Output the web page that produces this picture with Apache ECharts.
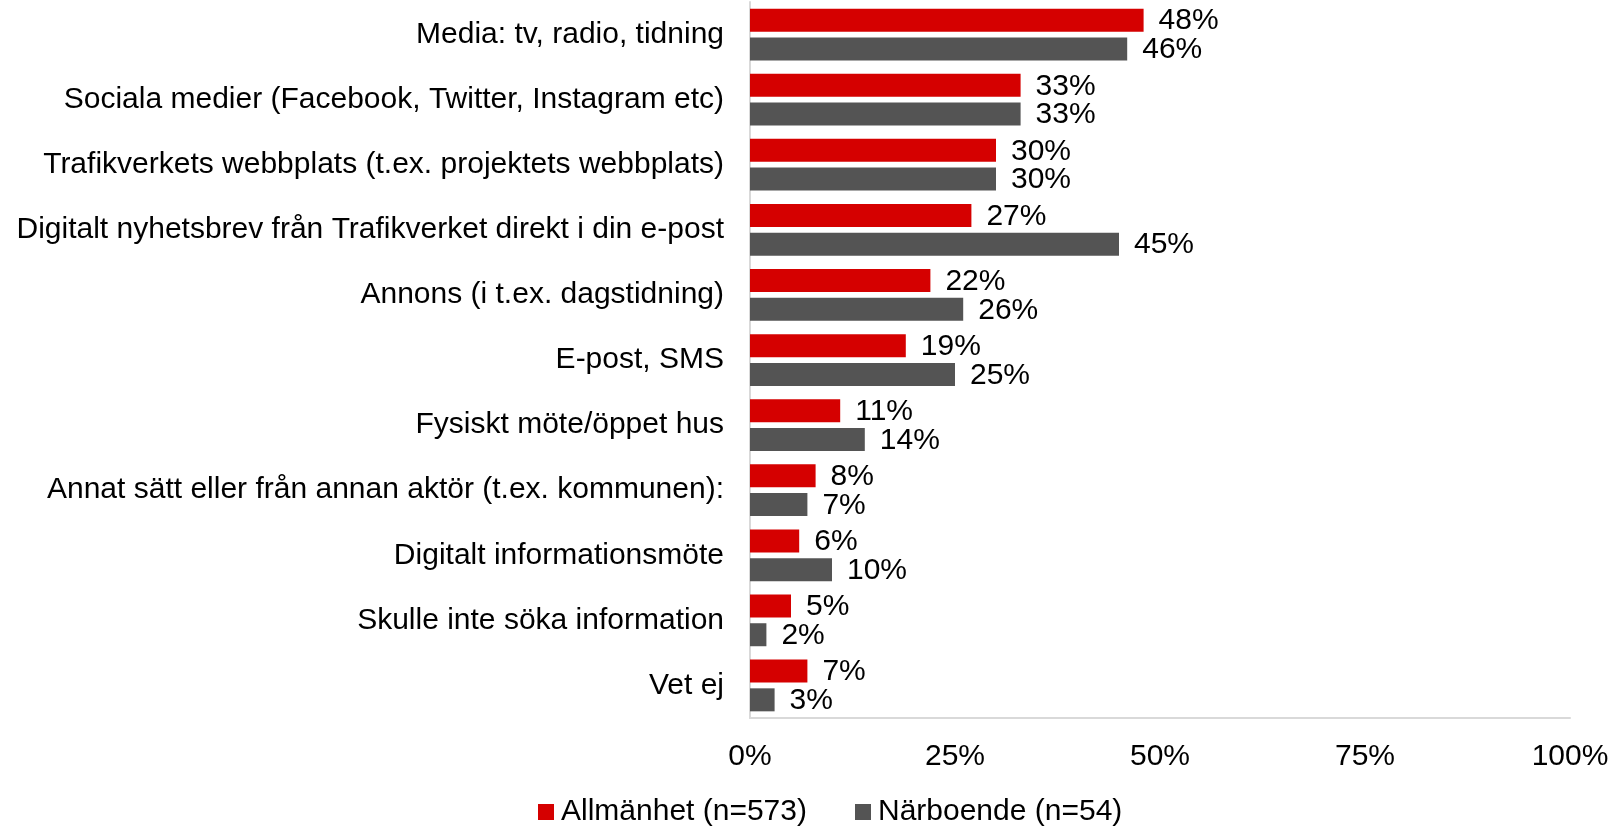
<!DOCTYPE html>
<html>
<head>
<meta charset="utf-8">
<script src="https://cdn.jsdelivr.net/npm/echarts@6/dist/echarts.min.js"></script>
<style>
html,body{margin:0;padding:0;background:#fff;}
#chart{width:1612px;height:826px;}
</style>
</head>
<body>
<div id="chart"></div>
<script>
const categories = [
  "Media: tv, radio, tidning",
  "Sociala medier (Facebook, Twitter, Instagram etc)",
  "Trafikverkets webbplats (t.ex. projektets webbplats)",
  "Digitalt nyhetsbrev från Trafikverket direkt i din e-post",
  "Annons (i t.ex. dagstidning)",
  "E-post, SMS",
  "Fysiskt möte/öppet hus",
  "Annat sätt eller från annan aktör (t.ex. kommunen):",
  "Digitalt informationsmöte",
  "Skulle inte söka information",
  "Vet ej"
];
const seriesNames = ["Allmänhet (n=573)", "Närboende (n=54)"];
const allmanhet = [48, 33, 30, 27, 22, 19, 11, 8, 6, 5, 7];
const narboende = [46, 33, 30, 45, 26, 25, 14, 7, 10, 2, 3];
const xTicks = [0, 25, 50, 75, 100];

const FONT = '"Liberation Sans", Arial, sans-serif';
const FS = 30;
const chart = echarts.init(document.getElementById('chart'), null, {renderer: 'canvas'});
const labelCfg = {
  show: true, position: 'right', distance: 15,
  formatter: p => p.value + '%',
  color: '#000', fontFamily: FONT, fontSize: FS, offset: [0, 1]
};
chart.setOption({
  animation: false,
  textStyle: {fontFamily: FONT},
  grid: {left: 750, right: 42, top: 2, bottom: 108, containLabel: false},
  legend: {
    top: 792, left: 533,
    itemWidth: 16, itemHeight: 16, itemGap: 48,
    icon: 'rect',
    textStyle: {fontFamily: FONT, fontSize: FS, color: '#000', padding: [0, 0, 0, 2]},
    data: seriesNames
  },
  xAxis: {
    type: 'value', min: 0, max: 100, interval: 25,
    axisLine: {show: true, lineStyle: {color: '#d9d9d9', width: 2}},
    axisTick: {show: false},
    splitLine: {show: false},
    axisLabel: {
      margin: 24, color: '#000', fontFamily: FONT, fontSize: FS,
      formatter: v => xTicks.includes(v) ? v + '%' : ''
    }
  },
  yAxis: {
    type: 'category', data: categories, inverse: true,
    axisLine: {show: true, lineStyle: {color: '#d9d9d9', width: 2}},
    axisTick: {show: false},
    axisLabel: {margin: 26, color: '#000', fontFamily: FONT, fontSize: FS}
  },
  series: [
    {name: seriesNames[0], type: 'bar', data: allmanhet, barWidth: 23, barGap: '25%',
     itemStyle: {color: '#d50000'}, label: labelCfg},
    {name: seriesNames[1], type: 'bar', data: narboende, barWidth: 23, barGap: '25%',
     itemStyle: {color: '#545454'}, label: labelCfg}
  ]
});
</script>
</body>
</html>
